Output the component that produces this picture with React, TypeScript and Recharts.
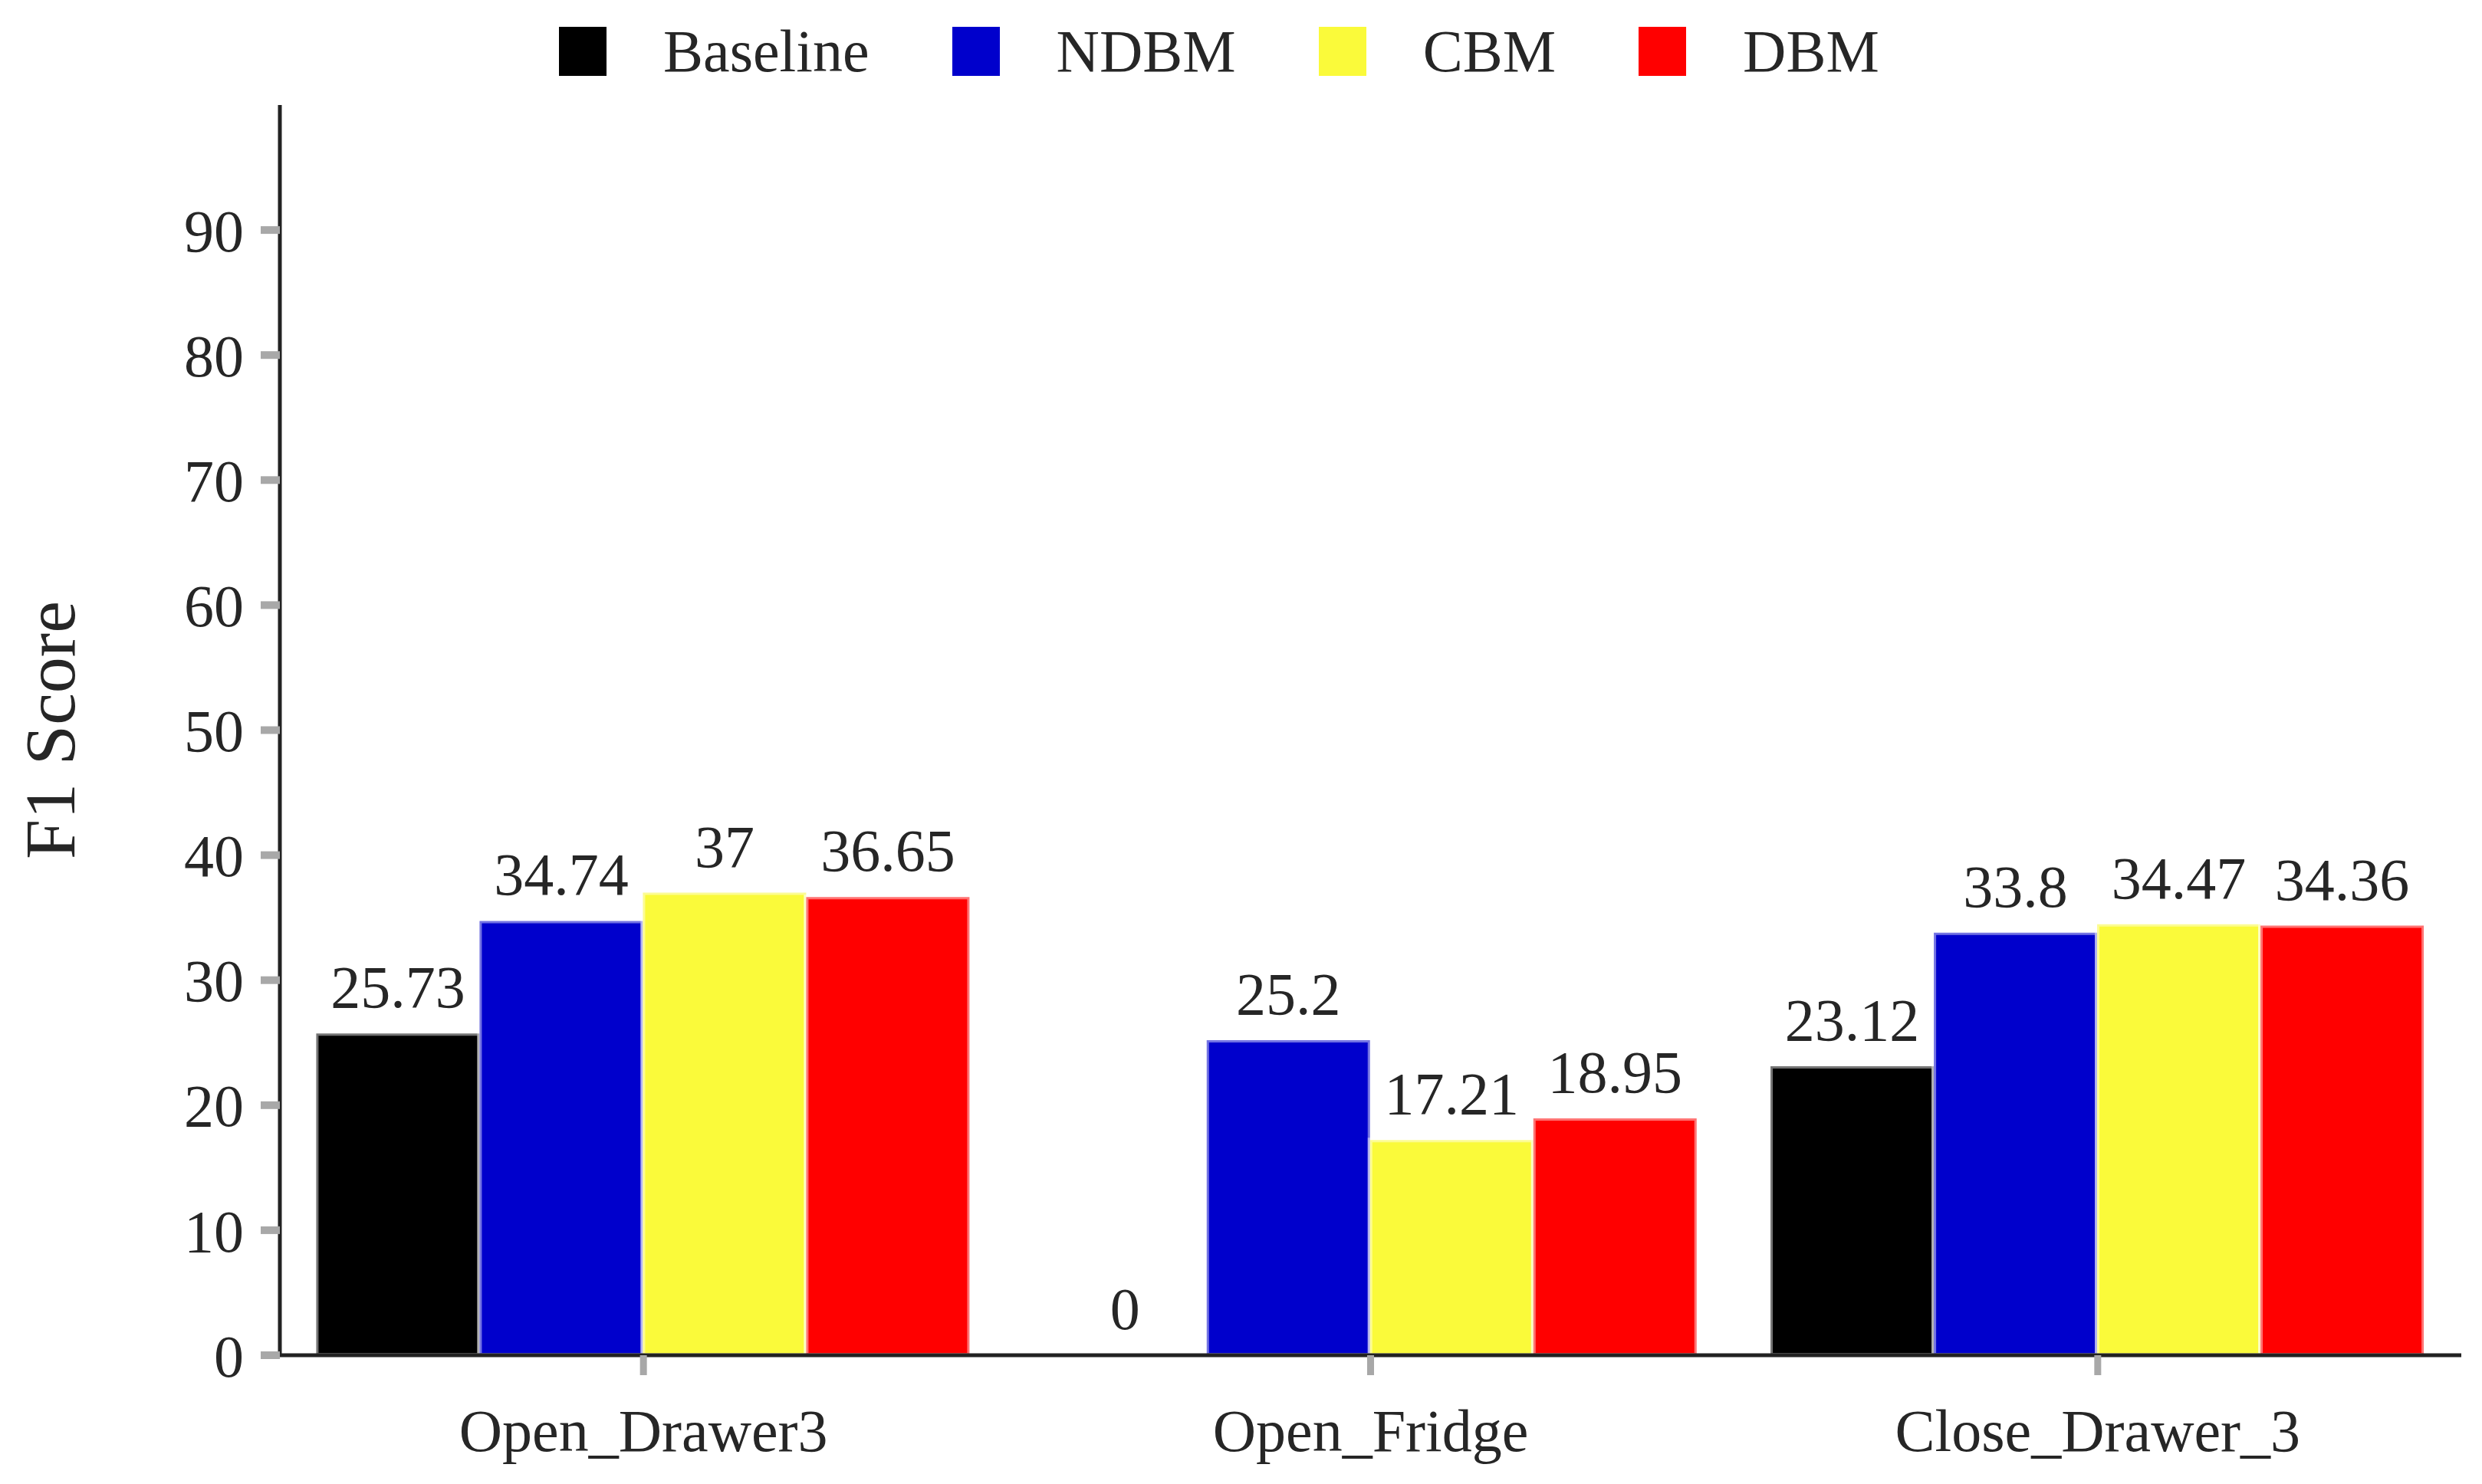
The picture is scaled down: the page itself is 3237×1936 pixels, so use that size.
import React from 'react';
import { BarChart, Bar, XAxis, YAxis, Legend, LabelList } from 'recharts';

const categories = ['Open_Drawer3', 'Open_Fridge', 'Close_Drawer_3'];
const baselineValues = [25.73, 0, 23.12];
const ndbmValues = [34.74, 25.2, 33.8];
const cbmValues = [37, 17.21, 34.47];
const dbmValues = [36.65, 18.95, 34.36];
const yTicks = [0, 10, 20, 30, 40, 50, 60, 70, 80, 90];
const seriesNames = ['Baseline', 'NDBM', 'CBM', 'DBM'];
const seriesColors = ['#000000', '#0000cc', '#fafa3a', '#ff0000'];

const data = categories.map((c, i) => ({
  name: c,
  Baseline: baselineValues[i],
  NDBM: ndbmValues[i],
  CBM: cbmValues[i],
  DBM: dbmValues[i],
}));

const FONT = '"Liberation Serif", "Times New Roman", serif';
const TEXT = '#262626';

const LegendContent = (props: any) => {
  const payload = [...(props.payload || [])].sort(
    (a: any, b: any) => seriesNames.indexOf(a.value) - seriesNames.indexOf(b.value)
  );
  return (
    <div style={{ display: 'flex', flexDirection: 'row', alignItems: 'center', height: 134, fontFamily: FONT }}>
      {payload.map((p: any) => (
        <div key={p.value} style={{ display: 'flex', alignItems: 'center', marginRight: 108 }}>
          <div style={{ width: 62, height: 64, background: p.color, marginRight: 74 }} />
          <span style={{ fontSize: 78, lineHeight: 1, color: TEXT, whiteSpace: 'nowrap' }}>{p.value}</span>
        </div>
      ))}
    </div>
  );
};

const YLabel = (props: any) => {
  const vb = props.viewBox || { x: 0, y: 137, width: 365, height: 1631 };
  const cy = vb.y + vb.height / 2;
  const x = 97;
  return (
    <text
      x={x}
      y={cy}
      transform={`rotate(-90, ${x}, ${cy})`}
      textAnchor="middle"
      fontFamily={FONT}
      fontSize={94}
      fill={TEXT}
    >
      F1 Score
    </text>
  );
};

const BarValueLabel = (props: any) => {
  const vb = props.viewBox || {};
  const x = props.x ?? vb.x;
  const y = props.y ?? vb.y;
  const width = props.width ?? vb.width;
  const value = props.value;
  if (x == null || y == null || width == null) return null;
  const h = Number(props.height ?? vb.height ?? 0);
  const top = h < 1 ? Number(y) + h : Number(y);
  return (
    <text
      x={Number(x) + Number(width) / 2}
      y={top - 34}
      textAnchor="middle"
      fontFamily={FONT}
      fontSize={78}
      fill={TEXT}
    >
      {String(value)}
    </text>
  );
};

export default function App() {
  return (
    <div style={{ position: 'absolute', left: 0, top: 0, background: '#fff' }}>
      <BarChart
        width={3237}
        height={1936}
        data={data}
        margin={{ top: 137, right: 27, bottom: 0, left: 0 }}
        barGap={0}
        barCategoryGap="5%"
      >
        <Legend
          layout="horizontal"
          verticalAlign="middle"
          align="center"
          wrapperStyle={{ top: 0, left: 729, width: 2400 }}
          content={<LegendContent />}
        />
        {seriesNames.map((s, i) => (
          <Bar
            key={s}
            dataKey={s}
            name={s}
            fill={seriesColors[i]}
            stroke="#ffffff"
            strokeOpacity={0.45}
            strokeWidth={6}
            minPointSize={(v: any) => (v === 0 ? 0.3 : 0)}
            isAnimationActive={false}
          >
            <LabelList dataKey={s} position="top" content={<BarValueLabel />} />
          </Bar>
        ))}
        <XAxis
          dataKey="name"
          height={168}
          axisLine={{ stroke: '#222', strokeWidth: 5 }}
          tickLine={{ stroke: '#a8a8a8', strokeWidth: 9 }}
          tickSize={26}
          tickMargin={44}
          tick={{ fontFamily: FONT, fontSize: 78, fill: TEXT }}
          interval={0}
        />
        <YAxis
          width={365}
          domain={[0, 100]}
          ticks={yTicks}
          interval={0}
          axisLine={{ stroke: '#222', strokeWidth: 5 }}
          tickLine={{ stroke: '#a8a8a8', strokeWidth: 10 }}
          tickSize={25}
          tickMargin={22}
          tick={{ fontFamily: FONT, fontSize: 78, fill: TEXT }}
          label={{ content: <YLabel /> }}
        />
      </BarChart>
    </div>
  );
}
